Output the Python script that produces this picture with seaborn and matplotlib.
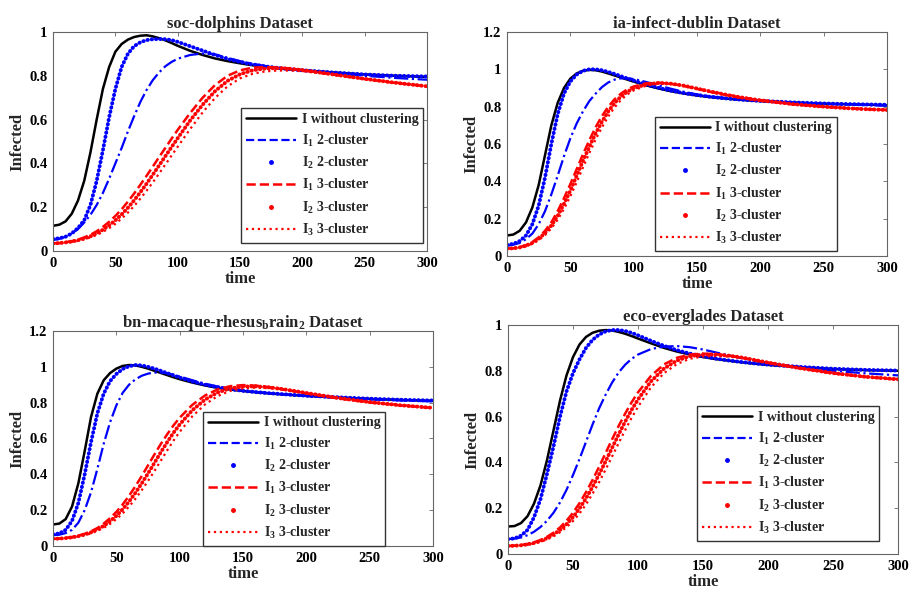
import matplotlib
matplotlib.use('Agg')
import seaborn as sns
import matplotlib.pyplot as plt
from matplotlib.lines import Line2D
from matplotlib.ticker import FormatStrFormatter

sns.set_theme(style='white')
plt.rcParams['font.family'] = ['Liberation Serif', 'DejaVu Serif']
plt.rcParams['font.weight'] = 'bold'
plt.rcParams['mathtext.fontset'] = 'custom'
plt.rcParams['mathtext.rm'] = 'Liberation Serif:bold'
plt.rcParams['mathtext.it'] = 'Liberation Serif:bold'
plt.rcParams['mathtext.bf'] = 'Liberation Serif:bold'
plt.rcParams['mathtext.default'] = 'rm'

# time points
time = [0, 5, 10, 15, 20, 25, 30, 35, 40, 45, 50, 55, 60, 65, 70, 75, 80, 85, 90, 95, 100,
        110, 120, 130, 140, 150, 160, 170, 180, 190, 200, 225, 250, 275, 300]

# soc-dolphins
dol_I = [0.115, 0.12, 0.135, 0.17, 0.23, 0.32, 0.45, 0.60, 0.74, 0.84, 0.91, 0.945, 0.965, 0.977, 0.983, 0.985, 0.98, 0.972, 0.962, 0.95, 0.937,
         0.914, 0.895, 0.879, 0.867, 0.857, 0.848, 0.841, 0.835, 0.83, 0.825, 0.815, 0.806, 0.80, 0.795]
dol_I1_2c = [0.05, 0.055, 0.065, 0.08, 0.10, 0.13, 0.165, 0.21, 0.265, 0.33, 0.40, 0.47, 0.545, 0.615, 0.68, 0.735, 0.78, 0.815, 0.843, 0.863, 0.878,
             0.895, 0.902, 0.898, 0.882, 0.867, 0.855, 0.845, 0.837, 0.83, 0.824, 0.812, 0.80, 0.79, 0.782]
dol_I2_2c = [0.055, 0.058, 0.065, 0.08, 0.105, 0.14, 0.21, 0.32, 0.46, 0.61, 0.74, 0.84, 0.90, 0.935, 0.953, 0.963, 0.967, 0.968, 0.967, 0.963, 0.955,
             0.935, 0.915, 0.895, 0.877, 0.863, 0.852, 0.843, 0.836, 0.83, 0.825, 0.815, 0.806, 0.80, 0.797]
dol_I1_3c = [0.035, 0.036, 0.04, 0.045, 0.052, 0.062, 0.074, 0.09, 0.11, 0.133, 0.16, 0.19, 0.225, 0.262, 0.302, 0.343, 0.385, 0.428, 0.47, 0.512, 0.553,
             0.63, 0.70, 0.758, 0.80, 0.825, 0.837, 0.84, 0.838, 0.833, 0.826, 0.805, 0.785, 0.767, 0.752]
dol_I2_3c = [0.035, 0.036, 0.039, 0.043, 0.049, 0.057, 0.067, 0.08, 0.097, 0.117, 0.14, 0.167, 0.197, 0.231, 0.268, 0.307, 0.348, 0.39, 0.432, 0.474, 0.515,
             0.596, 0.668, 0.73, 0.777, 0.807, 0.825, 0.833, 0.835, 0.832, 0.826, 0.806, 0.786, 0.768, 0.752]
dol_I3_3c = [0.035, 0.036, 0.038, 0.041, 0.046, 0.053, 0.062, 0.073, 0.087, 0.104, 0.124, 0.148, 0.175, 0.205, 0.239, 0.275, 0.313, 0.353, 0.394, 0.435, 0.476,
             0.557, 0.633, 0.699, 0.752, 0.788, 0.809, 0.82, 0.824, 0.824, 0.821, 0.806, 0.787, 0.769, 0.753]

# ia-infect-dublin
dub_I = [0.11, 0.115, 0.135, 0.18, 0.26, 0.38, 0.54, 0.70, 0.82, 0.90, 0.95, 0.978, 0.992, 0.997, 0.995, 0.988, 0.978, 0.967, 0.956, 0.945, 0.934,
         0.914, 0.897, 0.882, 0.87, 0.86, 0.852, 0.845, 0.839, 0.834, 0.83, 0.822, 0.816, 0.812, 0.808]
dub_I1_2c = [0.055, 0.06, 0.07, 0.09, 0.12, 0.17, 0.24, 0.33, 0.43, 0.535, 0.63, 0.71, 0.775, 0.83, 0.87, 0.905, 0.93, 0.945, 0.952, 0.952, 0.948,
             0.932, 0.913, 0.895, 0.879, 0.866, 0.856, 0.848, 0.841, 0.836, 0.831, 0.822, 0.815, 0.81, 0.805]
dub_I2_2c = [0.06, 0.065, 0.08, 0.11, 0.17, 0.27, 0.42, 0.60, 0.76, 0.87, 0.935, 0.972, 0.992, 1.0, 1.0, 0.995, 0.986, 0.975, 0.963, 0.951, 0.94,
             0.918, 0.9, 0.885, 0.872, 0.862, 0.853, 0.846, 0.84, 0.835, 0.831, 0.823, 0.817, 0.813, 0.81]
dub_I1_3c = [0.04, 0.042, 0.048, 0.058, 0.075, 0.10, 0.135, 0.18, 0.24, 0.31, 0.385, 0.465, 0.545, 0.62, 0.69, 0.75, 0.80, 0.84, 0.87, 0.893, 0.908,
             0.925, 0.928, 0.922, 0.91, 0.895, 0.88, 0.866, 0.853, 0.842, 0.833, 0.813, 0.799, 0.789, 0.782]
dub_I2_3c = [0.04, 0.041, 0.046, 0.055, 0.07, 0.092, 0.123, 0.163, 0.215, 0.28, 0.35, 0.43, 0.51, 0.585, 0.657, 0.72, 0.775, 0.82, 0.855, 0.88, 0.898,
             0.92, 0.927, 0.923, 0.912, 0.897, 0.882, 0.868, 0.855, 0.844, 0.834, 0.814, 0.80, 0.789, 0.782]
dub_I3_3c = [0.04, 0.041, 0.044, 0.052, 0.065, 0.085, 0.112, 0.148, 0.195, 0.253, 0.32, 0.395, 0.475, 0.552, 0.625, 0.69, 0.748, 0.797, 0.836, 0.866, 0.887,
             0.913, 0.923, 0.922, 0.912, 0.898, 0.884, 0.87, 0.857, 0.846, 0.836, 0.815, 0.80, 0.79, 0.783]

# bn-macaque-rhesus_brain_2
mac_I = [0.12, 0.125, 0.15, 0.22, 0.35, 0.53, 0.72, 0.85, 0.925, 0.965, 0.99, 1.005, 1.01, 1.008, 1.0, 0.99, 0.978, 0.966, 0.954, 0.942, 0.931,
         0.912, 0.896, 0.883, 0.873, 0.865, 0.858, 0.852, 0.847, 0.842, 0.838, 0.829, 0.821, 0.815, 0.81]
mac_I1_2c = [0.06, 0.063, 0.072, 0.09, 0.13, 0.20, 0.30, 0.43, 0.57, 0.69, 0.785, 0.855, 0.90, 0.93, 0.95, 0.962, 0.968, 0.968, 0.964, 0.956, 0.946,
             0.925, 0.906, 0.89, 0.878, 0.868, 0.86, 0.853, 0.847, 0.842, 0.837, 0.827, 0.819, 0.812, 0.807]
mac_I2_2c = [0.065, 0.07, 0.09, 0.14, 0.24, 0.40, 0.58, 0.74, 0.85, 0.92, 0.96, 0.988, 1.003, 1.01, 1.008, 1.0, 0.99, 0.978, 0.965, 0.953, 0.94,
             0.918, 0.90, 0.886, 0.875, 0.866, 0.859, 0.853, 0.848, 0.843, 0.839, 0.83, 0.822, 0.816, 0.812]
mac_I1_3c = [0.04, 0.041, 0.045, 0.05, 0.058, 0.068, 0.082, 0.10, 0.125, 0.155, 0.19, 0.232, 0.28, 0.333, 0.39, 0.45, 0.51, 0.568, 0.622, 0.672, 0.716,
             0.788, 0.84, 0.874, 0.892, 0.898, 0.895, 0.887, 0.876, 0.864, 0.852, 0.824, 0.801, 0.784, 0.77]
mac_I2_3c = [0.04, 0.041, 0.044, 0.048, 0.055, 0.064, 0.076, 0.092, 0.112, 0.138, 0.168, 0.205, 0.248, 0.296, 0.349, 0.405, 0.463, 0.522, 0.578, 0.631, 0.678,
             0.758, 0.817, 0.857, 0.88, 0.89, 0.891, 0.886, 0.877, 0.866, 0.854, 0.826, 0.803, 0.785, 0.771]
mac_I3_3c = [0.04, 0.041, 0.043, 0.046, 0.052, 0.06, 0.07, 0.084, 0.101, 0.123, 0.15, 0.182, 0.22, 0.263, 0.311, 0.363, 0.418, 0.475, 0.532, 0.587, 0.637,
             0.724, 0.79, 0.837, 0.866, 0.88, 0.884, 0.881, 0.874, 0.864, 0.853, 0.826, 0.804, 0.786, 0.772]

# eco-everglades
eco_I = [0.12, 0.122, 0.135, 0.165, 0.22, 0.30, 0.41, 0.54, 0.67, 0.78, 0.86, 0.915, 0.948, 0.966, 0.975, 0.978, 0.976, 0.97, 0.962, 0.952, 0.941,
         0.92, 0.90, 0.884, 0.871, 0.86, 0.851, 0.844, 0.837, 0.831, 0.826, 0.816, 0.808, 0.803, 0.80]
eco_I1_2c = [0.065, 0.067, 0.072, 0.082, 0.097, 0.118, 0.145, 0.18, 0.225, 0.28, 0.345, 0.415, 0.49, 0.565, 0.635, 0.695, 0.748, 0.792, 0.826, 0.852, 0.871,
             0.895, 0.906, 0.908, 0.903, 0.893, 0.88, 0.867, 0.855, 0.844, 0.834, 0.815, 0.80, 0.789, 0.78]
eco_I2_2c = [0.065, 0.068, 0.08, 0.105, 0.16, 0.24, 0.35, 0.47, 0.60, 0.71, 0.79, 0.85, 0.90, 0.935, 0.958, 0.972, 0.978, 0.978, 0.974, 0.966, 0.955,
             0.931, 0.909, 0.89, 0.875, 0.863, 0.853, 0.845, 0.838, 0.832, 0.827, 0.817, 0.809, 0.804, 0.801]
eco_I1_3c = [0.035, 0.036, 0.039, 0.044, 0.051, 0.061, 0.075, 0.093, 0.116, 0.145, 0.18, 0.222, 0.27, 0.323, 0.38, 0.44, 0.50, 0.558, 0.612, 0.662, 0.706,
             0.778, 0.828, 0.857, 0.871, 0.875, 0.873, 0.866, 0.857, 0.846, 0.835, 0.81, 0.789, 0.773, 0.762]
eco_I2_3c = [0.035, 0.036, 0.038, 0.042, 0.048, 0.057, 0.069, 0.085, 0.105, 0.13, 0.161, 0.199, 0.243, 0.293, 0.347, 0.404, 0.463, 0.521, 0.577, 0.629, 0.675,
             0.754, 0.81, 0.845, 0.864, 0.871, 0.871, 0.866, 0.858, 0.847, 0.836, 0.811, 0.79, 0.774, 0.763]
eco_I3_3c = [0.035, 0.036, 0.037, 0.04, 0.045, 0.053, 0.063, 0.077, 0.095, 0.117, 0.144, 0.177, 0.217, 0.263, 0.313, 0.368, 0.425, 0.483, 0.54, 0.594, 0.643,
             0.728, 0.79, 0.83, 0.853, 0.863, 0.865, 0.862, 0.856, 0.847, 0.837, 0.812, 0.791, 0.775, 0.764]

titles = ['soc-dolphins Dataset', 'ia-infect-dublin Dataset',
          'bn-macaque-rhesus$_b$rain$_2$ Dataset', 'eco-everglades Dataset']
y_max = [1.0, 1.2, 1.2, 1.0]
series = [
    [dol_I, dol_I1_2c, dol_I2_2c, dol_I1_3c, dol_I2_3c, dol_I3_3c],
    [dub_I, dub_I1_2c, dub_I2_2c, dub_I1_3c, dub_I2_3c, dub_I3_3c],
    [mac_I, mac_I1_2c, mac_I2_2c, mac_I1_3c, mac_I2_3c, mac_I3_3c],
    [eco_I, eco_I1_2c, eco_I2_2c, eco_I1_3c, eco_I2_3c, eco_I3_3c],
]
labels = ['I without clustering', 'I$_1$ 2-cluster', 'I$_2$ 2-cluster',
          'I$_1$ 3-cluster', 'I$_2$ 3-cluster', 'I$_3$ 3-cluster']

dots = (0, (0.1, 1.0))
styles = [
    dict(color='black', linestyle='-', linewidth=1.8),
    dict(color='blue', linestyle='-.', linewidth=1.6),
    dict(color='blue', linestyle=dots, linewidth=2.8, dash_capstyle='round'),
    dict(color='red', linestyle='--', linewidth=1.8),
    dict(color='red', linestyle=dots, linewidth=2.8, dash_capstyle='round'),
    dict(color='red', linestyle=':', linewidth=1.6),
]
handles = [
    Line2D([], [], color='black', lw=1.8),
    Line2D([], [], color='blue', ls='--', lw=1.6),
    Line2D([], [], color='blue', marker='.', ls='none', ms=5),
    Line2D([], [], color='red', ls='--', lw=1.8),
    Line2D([], [], color='red', marker='.', ls='none', ms=5),
    Line2D([], [], color='red', ls=':', lw=1.6),
]

# axes rectangles in figure fractions (the source is a composite of 4 panels)
rects = [[0.0579, 0.5803, 0.4083, 0.3662],
         [0.5535, 0.5719, 0.4148, 0.3746],
         [0.0579, 0.0870, 0.4148, 0.3595],
         [0.5546, 0.0736, 0.4258, 0.3829]]
legend_pos = [(0.503, 0.037), (0.389, 0.022), (0.395, 0.0), (0.485, 0.057)]

fig = plt.figure(figsize=(9.16, 5.98), dpi=100)

for i in range(4):
    ax = fig.add_axes(rects[i])
    for vals, st in zip(series[i], styles):
        sns.lineplot(x=time, y=vals, ax=ax, estimator=None, sort=False, **st)
    ax.set_xlim(0, 300)
    ax.set_ylim(0, y_max[i])
    ax.set_xticks(range(0, 301, 50))
    ax.set_yticks([k * 0.2 for k in range(int(round(y_max[i] / 0.2)) + 1)])
    ax.yaxis.set_major_formatter(FormatStrFormatter('%g'))
    ax.tick_params(direction='in', length=3, width=0.6, top=True, right=True,
                   color='#666666', labelsize=10.5, labelcolor='black', pad=4)
    for sp in ax.spines.values():
        sp.set_visible(True)
        sp.set_color('#666666')
        sp.set_linewidth(0.8)
    ax.set_title(titles[i], fontsize=12, fontweight='bold', pad=3)
    ax.set_xlabel('time', fontsize=12, fontweight='bold', labelpad=1)
    ax.set_ylabel('Infected', fontsize=12, fontweight='bold', labelpad=3)
    ax.legend(handles, labels, loc='lower left', bbox_to_anchor=legend_pos[i],
              borderaxespad=0, fontsize=10, frameon=True, fancybox=False,
              framealpha=1, edgecolor='#333333', handlelength=3.6,
              handletextpad=0.4, labelspacing=0.45, borderpad=0.35)

fig.savefig('out.png', dpi=100)
